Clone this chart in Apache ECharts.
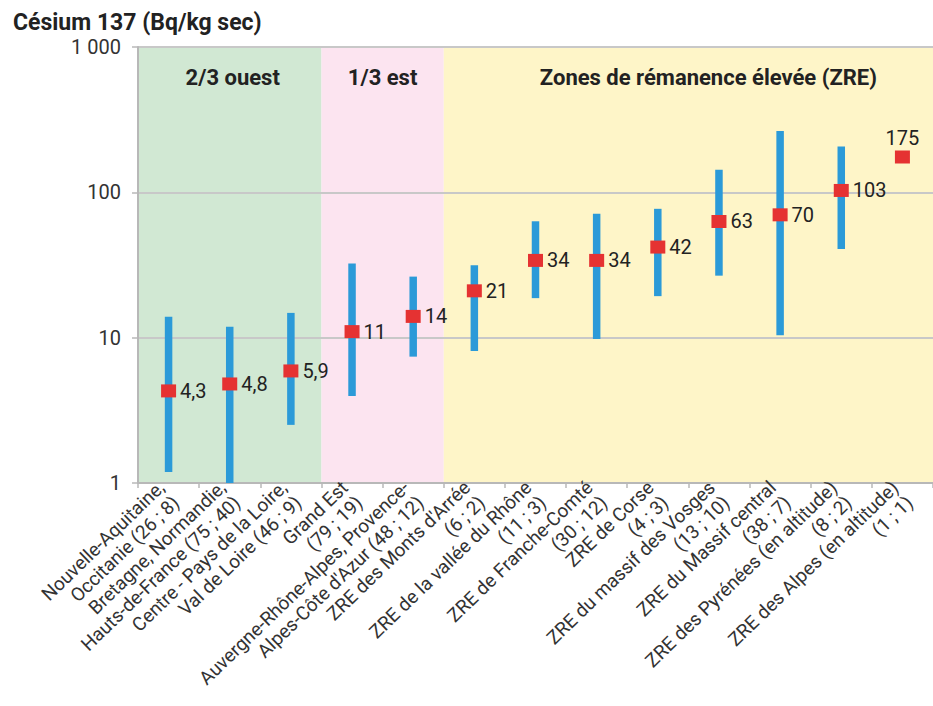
<!DOCTYPE html>
<html>
<head>
<meta charset="utf-8">
<script src="https://cdn.jsdelivr.net/npm/echarts@6/dist/echarts.min.js"></script>
<style>html,body{margin:0;padding:0;background:#fff;overflow:hidden;width:933px;height:706px}#c{width:933px;height:706px;overflow:hidden}</style>
</head>
<body>
<div id="c"></div>
<script>
const categories = [
  "Nouvelle-Aquitaine,\nOccitanie (26 ; 8)",
  "Bretagne, Normandie,\nHauts-de-France (75 ; 40)",
  "Centre - Pays de la Loire,\nVal de Loire (46 ; 9)",
  "Grand Est\n(79 ; 19)",
  "Auvergne-Rhône-Alpes, Provence-\nAlpes-Côte d'Azur (48 ; 12)",
  "ZRE des Monts d'Arrée\n(6 ; 2)",
  "ZRE de la vallée du Rhône\n(11 ; 3)",
  "ZRE de Franche-Comté\n(30 ; 12)",
  "ZRE de Corse\n(4 ; 3)",
  "ZRE du massif des Vosges\n(13 ; 10)",
  "ZRE du Massif central\n(38 ; 7)",
  "ZRE des Pyrénées (en altitude)\n(8 ; 2)",
  "ZRE des Alpes (en altitude)\n(1 ; 1)"
];
const medianValues = [4.3, 4.8, 5.9, 11, 14, 21, 34, 34, 42, 63, 70, 103, 175];
const lowValues  = [1.19, 1, 2.51, 3.97, 7.4, 8.1, 18.7, 9.8, 19.3, 26.7, 10.4, 40.8, null];
const highValues = [13.9, 11.9, 14.8, 32.4, 26.3, 31.5, 63.2, 71.2, 77, 143, 264, 207, null];
const yTickValues = [1, 10, 100, 1000];
const yTickLabels = ["1", "10", "100", "1 000"];
const bandLabels = ["2/3 ouest", "1/3 est", "Zones de rémanence élevée (ZRE)"];
const bandStart = [0, 3, 5];
const bandEnd = [2, 4, 12];

// styling / layout (not data)
const bandColors = ["#d1e8d3", "#fce4f0", "#fef5c8"];
const bandLabelDx = [3, 0, 20];
const FONT = "Roboto, 'Noto Sans', sans-serif";

const chart = echarts.init(document.getElementById('c'), null, {renderer: 'svg', width: 933, height: 706});

const rangeData = categories.map((c, i) => [i, lowValues[i], highValues[i]]).filter(d => d[1] != null);
const bandData = bandLabels.map((l, i) => [bandStart[i], bandEnd[i], i]);
const medianData = medianValues.map((v, i) => ({
  value: [i, v],
  label: i === medianValues.length - 1 ? {position: 'top', distance: 3} : undefined
}));

chart.setOption({
  animation: false,
  textStyle: {fontFamily: FONT},
  title: {
    text: "Césium 137 (Bq/kg sec)",
    left: 8, top: 6,
    textStyle: {fontFamily: FONT, fontSize: 23, fontWeight: 'bold', color: '#222'}
  },
  grid: {left: 138, top: 47, right: -5, bottom: 218, containLabel: false},
  xAxis: {
    type: 'category',
    data: categories,
    boundaryGap: true,
    axisLine: {show: true, lineStyle: {color: '#b8b8b8', width: 2}},
    axisTick: {show: true, length: 5, lineStyle: {color: '#b8b8b8', width: 1.5}},
    axisLabel: {interval: 0, rotate: 44, fontSize: 19, color: '#333', margin: 9, lineHeight: 21, fontFamily: FONT},
    splitLine: {show: false}
  },
  yAxis: {
    type: 'log',
    logBase: 10,
    min: 1, max: 1000,
    axisLine: {show: true, lineStyle: {color: '#b8b8b8', width: 2}},
    axisTick: {show: true, length: 6, lineStyle: {color: '#b8b8b8', width: 1.5}},
    axisLabel: {
      fontSize: 20, color: '#333', margin: 17, fontFamily: FONT,
      formatter: v => {
        const k = yTickValues.findIndex(t => Math.abs(t - v) < 1e-6 * t);
        return k >= 0 ? yTickLabels[k] : '';
      }
    },
    splitLine: {show: true, lineStyle: {color: '#c8c8c8', width: 2}},
    minorTick: {show: false}
  },
  series: [
    {
      type: 'custom',
      z: -1,
      silent: true,
      data: bandData,
      renderItem: (params, api) => {
        const s = api.value(0), e = api.value(1), k = api.value(2);
        const a = api.coord([s, 1000]);
        const b = api.coord([s + 1, 1]);
        const w = b[0] - a[0];
        const x0 = a[0] - w / 2;
        const x1 = api.coord([e, 1])[0] + w / 2;
        const y0 = a[1], y1 = b[1];
        return {
          type: 'group',
          children: [
            {type: 'rect', shape: {x: x0, y: y0, width: x1 - x0, height: y1 - y0},
             style: {fill: bandColors[k]}},
            {type: 'text', x: (x0 + x1) / 2 + bandLabelDx[k], y: y0 + 30,
             style: {text: bandLabels[k], fill: '#222', font: 'bold 22px ' + FONT,
                     align: 'center', verticalAlign: 'middle'}}
          ]
        };
      }
    },
    {
      type: 'custom',
      z: 3,
      data: rangeData,
      renderItem: (params, api) => {
        const p1 = api.coord([api.value(0), api.value(1)]);
        const p2 = api.coord([api.value(0), api.value(2)]);
        const bw = 7.5;
        return {
          type: 'rect',
          shape: {x: p1[0] - bw / 2, y: p2[1], width: bw, height: p1[1] - p2[1]},
          style: {fill: '#2b9ad8'}
        };
      }
    },
    {
      type: 'scatter',
      z: 4,
      symbol: 'rect',
      symbolSize: [15, 13],
      itemStyle: {color: '#e53232', opacity: 1},
      emphasis: {disabled: true},
      data: medianData,
      label: {
        show: true,
        position: 'right',
        distance: 4,
        fontSize: 20,
        color: '#222',
        fontFamily: FONT,
        formatter: p => String(p.value[1]).replace('.', ',')
      }
    }
  ]
});
</script>
</body>
</html>
